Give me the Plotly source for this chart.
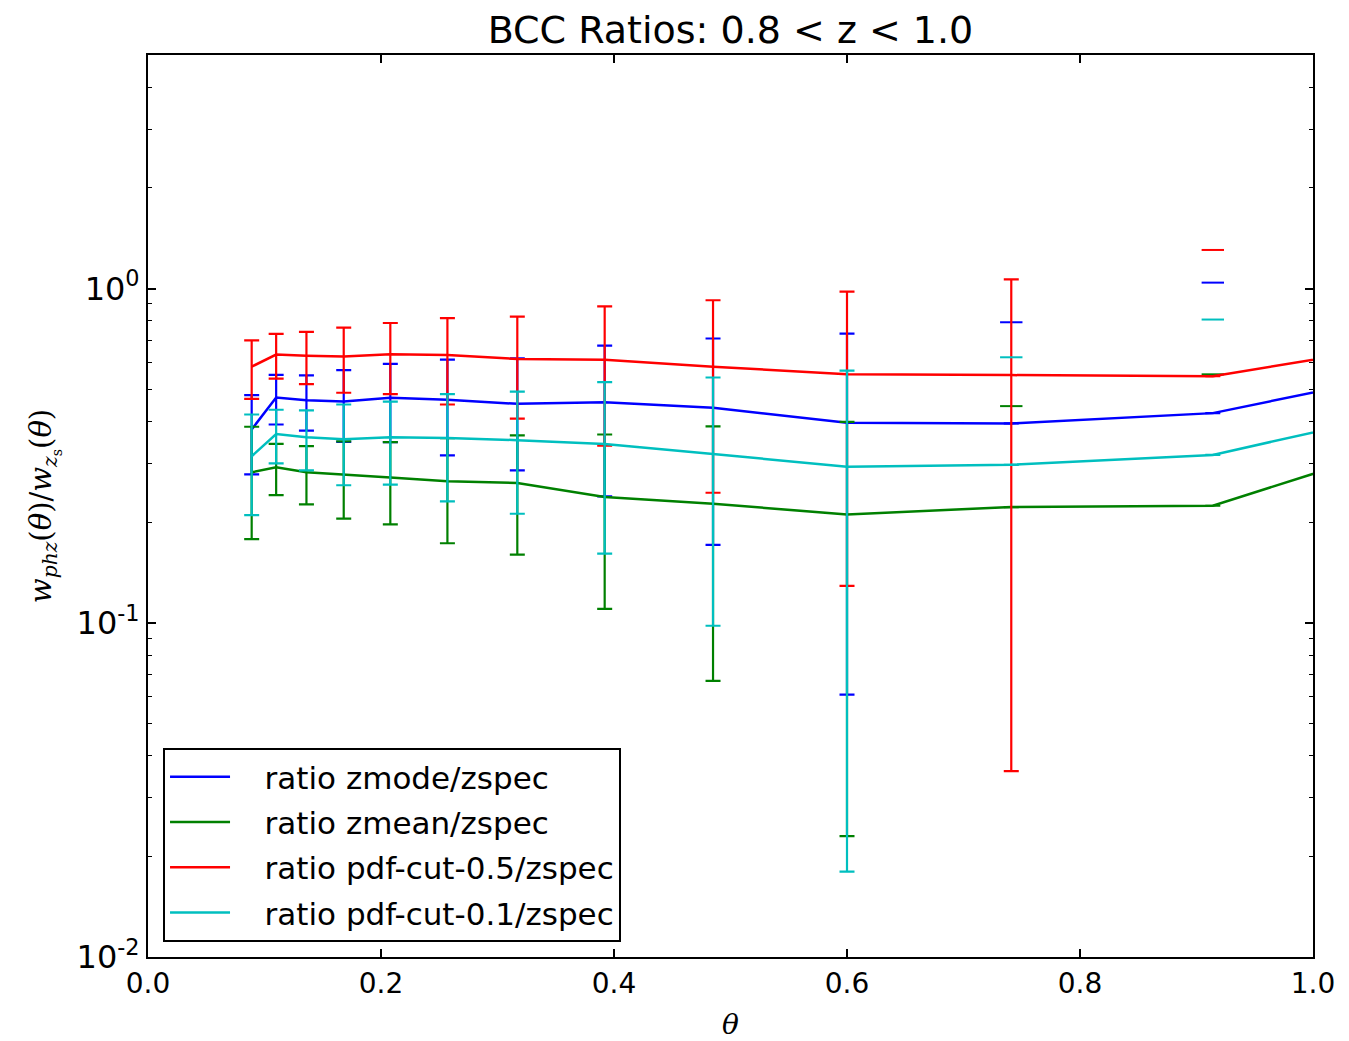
import math
import plotly.graph_objects as go

# ---- data ----
theta = [0.089, 0.110, 0.136, 0.168, 0.208, 0.257, 0.317, 0.392, 0.485, 0.600, 0.741, 0.914, 1.130]

zmode = [0.379, 0.472, 0.463, 0.459, 0.471, 0.465, 0.452, 0.457, 0.440, 0.397, 0.395, 0.424, 0.606]
zmode_err = [0.101, 0.080, 0.087, 0.111, 0.124, 0.148, 0.166, 0.218, 0.269, 0.336, 0.398, 0.618, 0.700]

zmean = [0.282, 0.292, 0.282, 0.277, 0.272, 0.265, 0.262, 0.238, 0.227, 0.211, 0.222, 0.224, 0.389]
zmean_err = [0.104, 0.051, 0.056, 0.072, 0.075, 0.092, 0.102, 0.128, 0.160, 0.188, 0.223, 0.330, 0.400]

pdf05 = [0.584, 0.635, 0.630, 0.626, 0.636, 0.633, 0.616, 0.612, 0.584, 0.554, 0.551, 0.547, 0.726]
pdf05_err = [0.116, 0.097, 0.112, 0.138, 0.153, 0.183, 0.208, 0.273, 0.339, 0.425, 0.515, 0.758, 0.900]

pdf01 = [0.315, 0.367, 0.359, 0.354, 0.359, 0.357, 0.352, 0.343, 0.320, 0.293, 0.297, 0.318, 0.469]
pdf01_err = [0.105, 0.067, 0.073, 0.096, 0.100, 0.126, 0.140, 0.182, 0.222, 0.275, 0.326, 0.490, 0.550]

series_names = ["ratio zmode/zspec", "ratio zmean/zspec", "ratio pdf-cut-0.5/zspec", "ratio pdf-cut-0.1/zspec"]
series_vals = [zmode, zmean, pdf05, pdf01]
series_errs = [zmode_err, zmean_err, pdf05_err, pdf01_err]
series_colors = ["#0000ff", "#008000", "#ff0000", "#00bfbf"]

y_tickvals = [0.01, 0.1, 1]
y_ticktext = ["10<sup>-2</sup>", "10<sup>-1</sup>", "10<sup>0</sup>"]
x_tickvals = [0.0, 0.2, 0.4, 0.6, 0.8, 1.0]

fig = go.Figure()

NBSP = "\u00a0"

for name, ys, errs, col in zip(series_names, series_vals, series_errs, series_colors):
    # full error bars only where the lower end stays positive (log axis)
    full = [e if (y - e) > 0 else float("nan") for y, e in zip(ys, errs)]
    fig.add_trace(go.Scatter(
        x=theta, y=ys, mode="lines", name=NBSP * 3 + name, legendgroup=name,
        line=dict(color=col, width=2.5),
        error_y=dict(type="data", array=full, symmetric=True, color=col,
                     thickness=2.2, width=7.5),
    ))
    # only the upper cap survives where the lower end is non-positive
    cx = [x for x, y, e in zip(theta, ys, errs) if (y - e) <= 0]
    cy = [y + e for y, e in zip(ys, errs) if (y - e) <= 0]
    fig.add_trace(go.Scatter(
        x=cx, y=cy, mode="markers", showlegend=False, legendgroup=name,
        marker=dict(symbol="line-ew", size=16, color=col,
                    line=dict(color=col, width=2)),
        hoverinfo="skip",
    ))

# minor ticks on log axis
minor_vals = [m * 10 ** d for d in (-2, -1, 0) for m in range(2, 10)]

fig.update_layout(
    width=1349, height=1041,
    margin=dict(l=148, r=36, t=55, b=84, autoexpand=False),
    paper_bgcolor="white", plot_bgcolor="white",
    font=dict(family="DejaVu Sans", color="black", size=28),
    title=dict(text="BCC Ratios: 0.8 < z < 1.0", x=0.5, xref="paper", xanchor="center",
               y=1 - 30 / 1041, yref="container", yanchor="middle",
               font=dict(family="DejaVu Sans", size=38, color="black")),
    showlegend=True,
    legend=dict(x=0.0129, y=0.0166, xanchor="left", yanchor="bottom",
                bgcolor="white", bordercolor="black", borderwidth=2,
                font=dict(family="DejaVu Sans", size=31, color="black"),
                tracegroupgap=2, itemwidth=60),
)

fig.update_xaxes(
    range=[0, 1], tickvals=x_tickvals, tickformat=".1f", automargin=False,
    showline=True, linecolor="black", linewidth=2, mirror="allticks",
    ticks="inside", ticklen=8, tickwidth=1.5, tickcolor="black",
    showgrid=False, zeroline=False,
    tickfont=dict(family="DejaVu Sans", size=28),
    title=dict(text="<i>θ</i>", font=dict(family="DejaVu Serif", size=28), standoff=16),
)

fig.update_yaxes(
    type="log", range=[-2, math.log10(5)], automargin=False,
    tickvals=y_tickvals, ticktext=y_ticktext,
    showline=True, linecolor="black", linewidth=2, mirror="allticks",
    ticks="inside", ticklen=8, tickwidth=1.5, tickcolor="black",
    showgrid=False, zeroline=False,
    tickfont=dict(family="DejaVu Sans", size=32),
    minor=dict(tickvals=minor_vals, ticks="inside", ticklen=4, tickwidth=1.2,
               tickcolor="black", showgrid=False),
    title=dict(text="<i>w</i><sub><i>phz</i></sub>(<i>θ</i>)/<i>w</i><sub><i>z</i><sub>s</sub></sub>(<i>θ</i>)",
               font=dict(family="DejaVu Serif", size=29), standoff=16),
)

fig.write_html("out.html")
